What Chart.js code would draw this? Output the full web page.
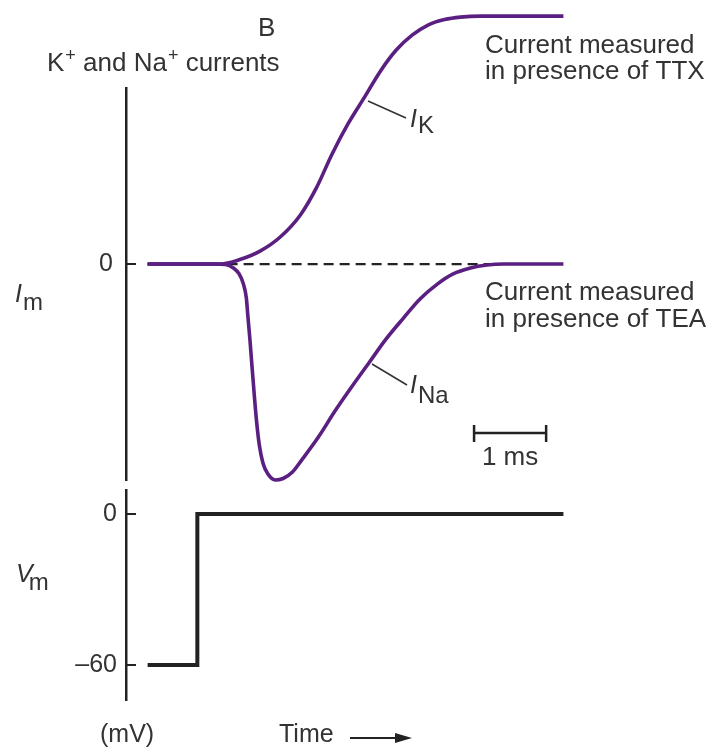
<!doctype html>
<html lang="en">
<head>
<meta charset="utf-8">
<title>K+ and Na+ currents</title>
<style>
  body { margin: 0; background: #fff; }
  #wrap { position: relative; width: 708px; height: 749px; }
  #wrap canvas { position: absolute; left: 0; top: 0; }
</style>
</head>
<body>
<div id="wrap">
  <canvas id="currents" width="708" height="749"></canvas>
  <canvas id="voltage" width="708" height="749"></canvas>
</div>
<script src="https://cdn.jsdelivr.net/npm/chart.js@4"></script>
<script>
// time in ms, current in arbitrary units (K plateau ~10)
const timeK = [0, 1.01, 1.28, 1.56, 1.84, 2.12, 2.34, 2.56, 2.78, 3.01, 3.23, 3.45, 3.67, 3.89, 4.12, 4.34, 4.62, 5.77];
const currentK = [0, 0, 0.18, 0.52, 1.09, 1.98, 3.06, 4.44, 5.65, 6.73, 7.78, 8.63, 9.23, 9.64, 9.86, 9.96, 10.0, 10.0];

const timeNa = [0, 0.94, 1.08, 1.19, 1.27, 1.33, 1.37, 1.39, 1.42, 1.45, 1.48, 1.51, 1.55, 1.60, 1.67, 1.77,
  1.88, 2.01, 2.14, 2.37, 2.60, 2.84, 3.08, 3.31, 3.55, 3.78, 4.02, 4.24, 4.48, 4.71, 4.94, 5.77];
const currentNa = [0, 0, -0.02, -0.16, -0.40, -0.81, -1.37, -2.06, -3.06, -4.19, -5.28, -6.29, -7.30, -8.02, -8.47, -8.71,
  -8.65, -8.39, -7.90, -6.98, -5.93, -4.92, -3.95, -3.02, -2.18, -1.41, -0.81, -0.40, -0.16, -0.04, 0, 0];

const timeZero = [0, 4.9];
const currentZero = [0, 0];

// voltage step (mV)
const timeV = [0, 0.69, 0.69, 5.77];
const voltage = [-60, -60, 0, 0];

const currentTicks = [0];
const voltageTicks = [0, -60];

const toXY = (xs, ys) => xs.map((x, i) => ({x: x, y: ys[i]}));

const FONT = '"Liberation Sans", Arial, sans-serif';
const INK = '#333';
const PURPLE = '#5a1f80';

Chart.defaults.font.family = FONT;

function runs(ctx, x, y, parts) {
  for (const p of parts) {
    ctx.font = p.font;
    x += p.dx || 0;
    ctx.fillText(p.t, x, y + (p.dy || 0));
    x += ctx.measureText(p.t).width;
  }
}

const xScale = {type: 'linear', min: -0.3, max: 6.0, display: false};

function yScale(min, max, ticks, pad) {
  return {
    type: 'linear', min: min, max: max,
    afterBuildTicks: s => { s.ticks = ticks.map(v => ({value: v})); },
    afterFit: s => { s.width = 126; },
    grid: {drawOnChartArea: false, drawTicks: true, tickLength: -10, color: '#222', lineWidth: 2},
    border: {display: true, color: '#222', width: 2.5},
    ticks: {
      padding: pad, color: INK, font: {size: 25},
      callback: v => v < 0 ? '\u2013' + Math.abs(v) : String(v)
    }
  };
}

const currentLabels = {
  id: 'currentLabels',
  afterDraw(chart) {
    const ctx = chart.ctx;
    const x = chart.scales.x;
    ctx.save();
    ctx.fillStyle = INK;
    ctx.textBaseline = 'alphabetic';
    ctx.textAlign = 'left';

    ctx.font = '26px ' + FONT;
    ctx.fillText('B', 258, 36);

    runs(ctx, 47, 71, [
      {t: 'K', font: '26px ' + FONT},
      {t: '+', font: '18px ' + FONT, dy: -10, dx: 1},
      {t: ' and Na', font: '26px ' + FONT},
      {t: '+', font: '18px ' + FONT, dy: -10, dx: 1},
      {t: ' currents', font: '26px ' + FONT}
    ]);

    ctx.font = '26px ' + FONT;
    ctx.fillText('Current measured', 485, 53);
    ctx.fillText('in presence of TTX', 485, 79);
    ctx.fillText('Current measured', 485, 300);
    ctx.fillText('in presence of TEA', 485, 327);

    runs(ctx, 15, 302, [
      {t: 'I', font: 'italic 25px ' + FONT},
      {t: 'm', font: '24px ' + FONT, dy: 8, dx: 1}
    ]);
    runs(ctx, 410, 127, [
      {t: 'I', font: 'italic 25px ' + FONT},
      {t: 'K', font: '24px ' + FONT, dy: 6, dx: 1}
    ]);
    runs(ctx, 410, 393, [
      {t: 'I', font: 'italic 25px ' + FONT},
      {t: 'Na', font: '24px ' + FONT, dy: 10, dx: 1}
    ]);

    // leader lines
    ctx.strokeStyle = '#333';
    ctx.lineWidth = 1.6;
    ctx.beginPath();
    ctx.moveTo(368, 101); ctx.lineTo(406, 118);
    ctx.moveTo(372, 364); ctx.lineTo(407, 385);
    ctx.stroke();

    // 1 ms scale bar
    const x0 = x.getPixelForValue(4.53), x1 = x.getPixelForValue(5.53);
    ctx.strokeStyle = '#222';
    ctx.lineWidth = 2.5;
    ctx.beginPath();
    ctx.moveTo(x0, 433); ctx.lineTo(x1, 433);
    ctx.moveTo(x0, 425); ctx.lineTo(x0, 442);
    ctx.moveTo(x1, 425); ctx.lineTo(x1, 442);
    ctx.stroke();
    ctx.font = '26px ' + FONT;
    ctx.textAlign = 'center';
    ctx.fillText('1 ms', (x0 + x1) / 2, 465);
    ctx.restore();
  }
};

const voltageLabels = {
  id: 'voltageLabels',
  afterDraw(chart) {
    const ctx = chart.ctx;
    ctx.save();
    ctx.fillStyle = INK;
    ctx.textBaseline = 'alphabetic';
    runs(ctx, 16, 582, [
      {t: 'V', font: 'italic 25px ' + FONT},
      {t: 'm', font: '24px ' + FONT, dy: 8, dx: -4}
    ]);
    ctx.font = '25px ' + FONT;
    ctx.fillText('(mV)', 100, 742);
    ctx.fillText('Time', 279, 742);
    // arrow
    ctx.strokeStyle = '#222';
    ctx.lineWidth = 2;
    ctx.beginPath();
    ctx.moveTo(350, 738); ctx.lineTo(398, 738);
    ctx.stroke();
    ctx.fillStyle = '#222';
    ctx.beginPath();
    ctx.moveTo(395, 733); ctx.lineTo(412, 738); ctx.lineTo(395, 743);
    ctx.closePath();
    ctx.fill();
    ctx.restore();
  }
};

const common = {
  responsive: false,
  animation: false,
  devicePixelRatio: 1,
  plugins: {legend: {display: false}, tooltip: {enabled: false}},
  elements: {point: {radius: 0}}
};

new Chart(document.getElementById('currents'), {
  type: 'line',
  data: {
    datasets: [
      {data: toXY(timeK, currentK), borderColor: PURPLE, borderWidth: 3.6, cubicInterpolationMode: 'monotone', clip: false},
      {data: toXY(timeNa, currentNa), borderColor: PURPLE, borderWidth: 3.6, cubicInterpolationMode: 'monotone', clip: false},
      {data: toXY(timeZero, currentZero), borderColor: '#222', borderWidth: 2.2, borderDash: [10, 6], clip: false}
    ]
  },
  options: Object.assign({}, common, {
    layout: {padding: {left: 0, right: 128, top: 88, bottom: 749 - 480}},
    scales: {x: xScale, y: yScale(-8.71, 7.1, currentTicks, 23)}
  }),
  plugins: [currentLabels]
});

new Chart(document.getElementById('voltage'), {
  type: 'line',
  data: {
    datasets: [
      {data: toXY(timeV, voltage), borderColor: '#222', borderWidth: 4,
        borderJoinStyle: 'miter', borderCapStyle: 'butt', clip: false}
    ]
  },
  options: Object.assign({}, common, {
    layout: {padding: {left: 0, right: 128, top: 490, bottom: 749 - 700}},
    scales: {x: xScale, y: yScale(-73.9, 9.54, voltageTicks, 19)}
  }),
  plugins: [voltageLabels]
});
</script>
</body>
</html>
